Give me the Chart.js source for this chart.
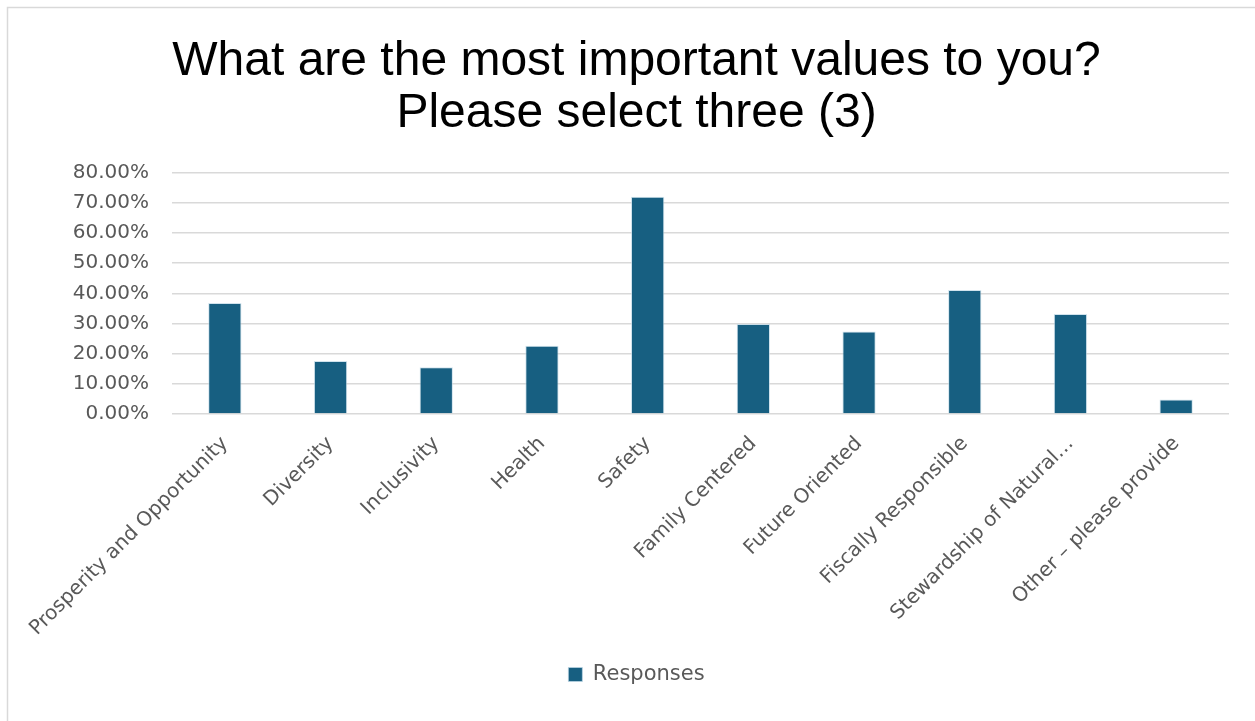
<!DOCTYPE html>
<html>
<head>
<meta charset="utf-8">
<script src="https://cdn.jsdelivr.net/npm/chart.js@4"></script>
<style>
  html, body { margin: 0; padding: 0; background: #ffffff; overflow: hidden; }
  #wrap { position: relative; width: 1255px; height: 721px; }
</style>
</head>
<body>
<div id="wrap"><canvas id="valuesChart" width="1255" height="721"></canvas></div>
<script>
const categories = [
  'Prosperity and Opportunity', 'Diversity', 'Inclusivity', 'Health', 'Safety',
  'Family Centered', 'Future Oriented', 'Fiscally Responsible',
  'Stewardship of Natural\u2026', 'Other \u2013 please provide'
];
const responses = [0.368, 0.176, 0.155, 0.226, 0.720, 0.298, 0.273, 0.411, 0.331, 0.048];
const yMax = 0.8;
const yStep = 0.1;

const labelFont = { family: '"DejaVu Sans", sans-serif', size: 20 };

// light grey frame round the chart
const frame = {
  id: 'frame',
  beforeDraw(chart) {
    const c = chart.ctx;
    c.save();
    c.fillStyle = '#ffffff';
    c.fillRect(0, 0, chart.width, chart.height);
    c.strokeStyle = '#d9d9d9';
    c.lineWidth = 1.5;
    c.strokeRect(7.5, 7.5, chart.width + 40, chart.height + 40);
    c.restore();
  }
};

const ctx = document.getElementById('valuesChart');

const valuesChart = new Chart(ctx, {
  type: 'bar',
  data: {
    labels: categories,
    datasets: [{
      label: 'Responses',
      data: responses,
      backgroundColor: '#175f81',
      borderColor: 'rgba(190, 215, 230, 0.7)',
      borderWidth: 1,
      borderSkipped: 'bottom',
      categoryPercentage: 1,
      barPercentage: 0.315
    }]
  },
  options: {
    responsive: false,
    animation: false,
    layout: { padding: { left: 44, right: 26, top: 0, bottom: 26 } },
    plugins: {
      title: {
        display: true,
        text: ['What are the most important values to you?', 'Please select three (3)'],
        color: '#000000',
        font: { family: '"Liberation Sans", Arial, sans-serif', size: 48, weight: 'normal', lineHeight: 1.1 },
        padding: { top: 35, bottom: 32 }
      },
      legend: {
        position: 'bottom',
        labels: {
          color: '#595959',
          font: { family: '"DejaVu Sans", sans-serif', size: 21 },
          boxWidth: 14,
          boxHeight: 14,
          padding: 10
        }
      },
      tooltip: { enabled: false }
    },
    scales: {
      x: {
        grid: { display: false },
        border: { display: false },
        ticks: {
          color: '#595959',
          font: labelFont,
          minRotation: 45,
          maxRotation: 45,
          autoSkip: false,
          padding: 10
        },
        afterFit(scale) { scale.height = 240; }
      },
      y: {
        min: 0,
        max: yMax,
        grid: { color: '#d9d9d9', lineWidth: 1.5, drawTicks: false },
        border: { display: false },
        ticks: {
          stepSize: yStep,
          color: '#595959',
          font: labelFont,
          padding: 23,
          callback: (v) => (v * 100).toFixed(2) + '%'
        },
        afterFit(scale) { scale.width = 128; }
      }
    }
  },
  plugins: [frame]
});
</script>
</body>
</html>
